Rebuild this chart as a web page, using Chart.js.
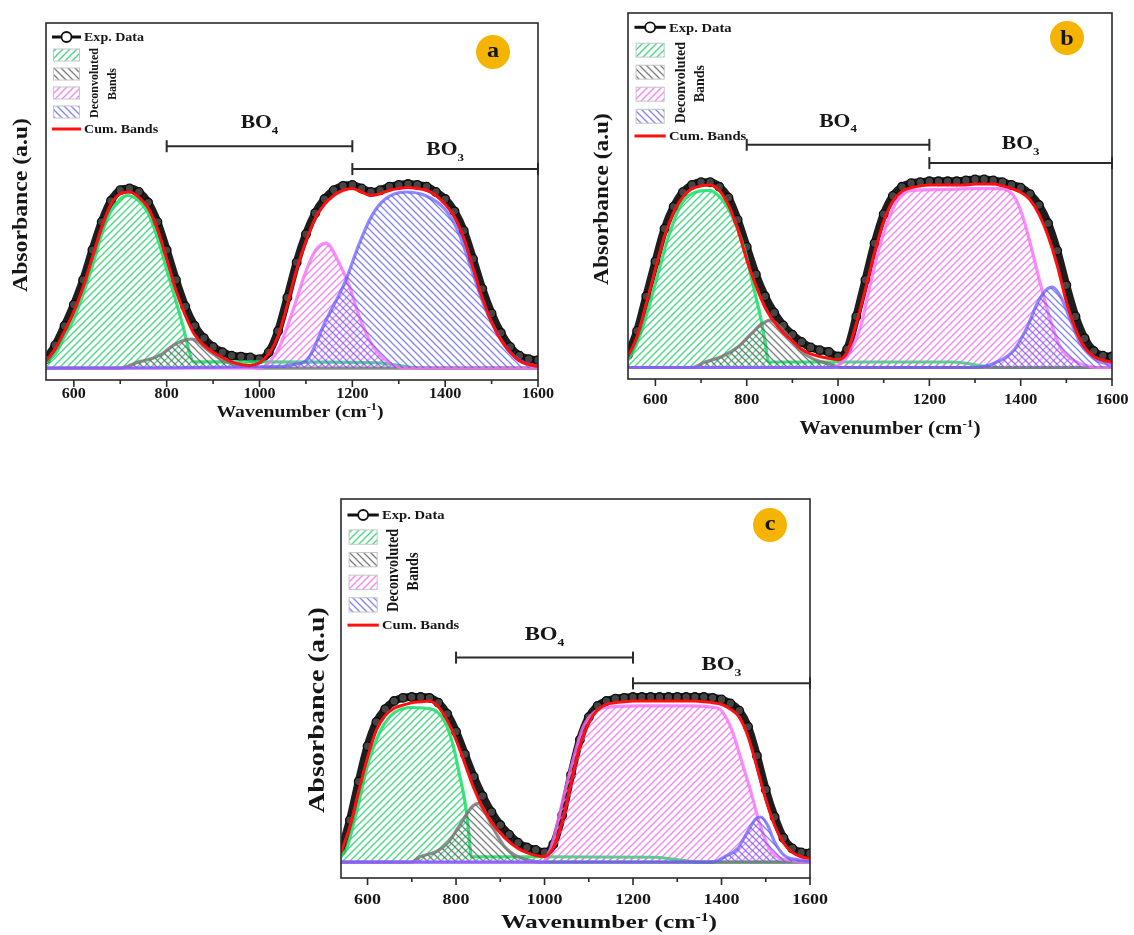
<!DOCTYPE html>
<html>
<head>
<meta charset="utf-8">
<title>FTIR deconvolution a/b/c</title>
<script src="https://cdn.jsdelivr.net/npm/chart.js@4.4.1/dist/chart.umd.min.js"></script>
<style>
  html, body { margin: 0; background: #fff; }
  #wrap { position: relative; width: 1134px; height: 935px; }
  #wrap canvas { position: absolute; left: 0; top: 0; }
</style>
</head>
<body>
<div id="wrap">
  <canvas id="chartA" width="1134" height="935"></canvas>
  <canvas id="chartB" width="1134" height="935"></canvas>
  <canvas id="chartC" width="1134" height="935"></canvas>
</div>
<script>
// === DATA (absorbance in units of the main peak) ===
const wavenumbers = [
  540, 560, 580, 600, 620, 640, 660, 680, 700, 720,
  740, 760, 780, 800, 820, 840, 860, 880, 900, 920,
  940, 960, 980, 1000, 1020, 1040, 1060, 1080, 1100, 1120,
  1140, 1160, 1180, 1200, 1220, 1240, 1260, 1280, 1300, 1320,
  1340, 1360, 1380, 1400, 1420, 1440, 1460, 1480, 1500, 1520,
  1540, 1560, 1580, 1600
];
const majorTicks = [600, 800, 1000, 1200, 1400, 1600];
const minorTicks = [700, 900, 1100, 1300, 1500];
const bo4Range = [800, 1200];
const bo3Range = [1200, 1600];

// --- panel a ---
const expA = [
  0.05, 0.13, 0.24, 0.36, 0.50, 0.67, 0.83, 0.95, 1.01, 1.02,
  1.00, 0.94, 0.83, 0.67, 0.50, 0.35, 0.24, 0.17, 0.12, 0.09,
  0.07, 0.065, 0.06, 0.05, 0.09, 0.21, 0.40, 0.60, 0.76, 0.88,
  0.96, 1.01, 1.035, 1.04, 1.02, 1.00, 1.01, 1.03, 1.04, 1.045,
  1.04, 1.03, 1.00, 0.96, 0.89, 0.78, 0.62, 0.45, 0.31, 0.20,
  0.12, 0.07, 0.05, 0.045
];
const cumA = [
  0.04, 0.11, 0.21, 0.32, 0.46, 0.63, 0.80, 0.93, 0.99, 1.00,
  0.97, 0.91, 0.79, 0.62, 0.44, 0.30, 0.19, 0.13, 0.09, 0.06,
  0.035, 0.02, 0.015, 0.03, 0.08, 0.18, 0.36, 0.56, 0.72, 0.85,
  0.93, 0.98, 1.01, 1.02, 1.00, 0.98, 0.99, 1.01, 1.02, 1.025,
  1.02, 1.01, 0.98, 0.93, 0.86, 0.74, 0.57, 0.40, 0.26, 0.16,
  0.09, 0.04, 0.02, 0.01
];
const greenA = [[540, 0.03], [560, 0.08], [580, 0.18], [600, 0.28], [620, 0.42], [640, 0.58], [660, 0.76],
  [680, 0.89], [700, 0.96], [715, 0.98], [740, 0.95], [760, 0.88], [780, 0.74], [800, 0.56], [820, 0.38],
  [835, 0.24], [848, 0.10], [858, 0.035], [1000, 0.035], [1250, 0.03], [1350, 0], [1600, 0]];
const grayA = [[540, 0], [700, 0], [740, 0.035], [770, 0.055], [790, 0.08], [815, 0.13], [840, 0.16],
  [855, 0.165], [870, 0.145], [885, 0.11], [900, 0.08], [920, 0.045], [940, 0.025], [970, 0.01], [1000, 0], [1600, 0]];
const pinkA = [[540, 0], [1000, 0], [1020, 0.03], [1043, 0.12], [1071, 0.32], [1100, 0.55], [1121, 0.67],
  [1143, 0.71], [1171, 0.60], [1193, 0.47], [1214, 0.30], [1243, 0.13], [1271, 0.045], [1295, 0.01], [1320, 0], [1600, 0]];
const blueA = [[540, 0], [1050, 0.01], [1071, 0.02], [1100, 0.04], [1143, 0.27], [1186, 0.50], [1214, 0.70],
  [1243, 0.87], [1271, 0.96], [1314, 1.0], [1357, 0.98], [1400, 0.90], [1429, 0.77], [1457, 0.56],
  [1486, 0.34], [1514, 0.19], [1543, 0.08], [1571, 0.03], [1600, 0.01]];

// --- panel b ---
const expB = [
  0.07, 0.20, 0.39, 0.58, 0.76, 0.88, 0.96, 1.00, 1.015, 1.015,
  0.99, 0.93, 0.81, 0.66, 0.51, 0.39, 0.30, 0.23, 0.18, 0.14,
  0.11, 0.095, 0.085, 0.06, 0.10, 0.28, 0.48, 0.68, 0.84, 0.94,
  0.99, 1.01, 1.015, 1.02, 1.02, 1.02, 1.02, 1.025, 1.03, 1.03,
  1.025, 1.015, 1.00, 0.985, 0.95, 0.89, 0.79, 0.64, 0.45, 0.28,
  0.16, 0.09, 0.065, 0.06
];
const cumB = [
  0.06, 0.17, 0.35, 0.54, 0.72, 0.85, 0.935, 0.98, 0.995, 1.00,
  0.97, 0.89, 0.76, 0.59, 0.45, 0.33, 0.25, 0.19, 0.145, 0.10,
  0.075, 0.06, 0.05, 0.042, 0.085, 0.24, 0.43, 0.63, 0.80, 0.91,
  0.965, 0.985, 0.995, 1.00, 1.00, 1.00, 1.00, 1.00, 1.005, 1.005,
  1.005, 0.995, 0.98, 0.96, 0.92, 0.84, 0.72, 0.56, 0.36, 0.21,
  0.11, 0.06, 0.04, 0.03
];
const greenB = [[540, 0.04], [550, 0.08], [571, 0.21], [600, 0.46], [629, 0.72], [658, 0.90], [688, 0.96],
  [717, 0.97], [746, 0.92], [775, 0.79], [797, 0.63], [815, 0.44], [830, 0.28], [841, 0.13], [848, 0.03],
  [1000, 0.03], [1250, 0.03], [1350, 0], [1600, 0]];
const grayB = [[540, 0], [680, 0], [709, 0.03], [746, 0.06], [782, 0.115], [812, 0.19], [834, 0.24],
  [852, 0.26], [870, 0.23], [892, 0.17], [914, 0.10], [943, 0.05], [980, 0.02], [1010, 0], [1600, 0]];
const pinkB = [[540, 0], [990, 0], [1005, 0.02], [1020, 0.06], [1049, 0.22], [1071, 0.46], [1093, 0.68],
  [1115, 0.84], [1137, 0.94], [1166, 0.97], [1224, 0.975], [1297, 0.98], [1355, 0.98], [1385, 0.94],
  [1403, 0.84], [1421, 0.68], [1443, 0.46], [1465, 0.26], [1487, 0.11], [1516, 0.04], [1545, 0.01], [1570, 0], [1600, 0]];
const blueB = [[540, 0], [1300, 0], [1348, 0.03], [1385, 0.095], [1414, 0.22], [1436, 0.35], [1454, 0.42],
  [1469, 0.44], [1487, 0.39], [1509, 0.26], [1531, 0.13], [1560, 0.05], [1589, 0.02], [1600, 0.015]];

// --- panel c ---
const expC = [
  0.07, 0.26, 0.50, 0.72, 0.87, 0.95, 1.00, 1.02, 1.025, 1.025,
  1.02, 0.99, 0.92, 0.81, 0.67, 0.53, 0.41, 0.31, 0.23, 0.17,
  0.12, 0.09, 0.075, 0.06, 0.11, 0.29, 0.54, 0.76, 0.90, 0.97,
  1.00, 1.015, 1.02, 1.025, 1.025, 1.025, 1.025, 1.025, 1.025, 1.025,
  1.025, 1.025, 1.02, 1.01, 0.985, 0.94, 0.84, 0.66, 0.45, 0.28,
  0.15, 0.085, 0.06, 0.055
];
const cumC = [
  0.06, 0.22, 0.44, 0.65, 0.82, 0.91, 0.955, 0.975, 0.99, 0.995,
  1.00, 0.965, 0.88, 0.76, 0.61, 0.46, 0.34, 0.25, 0.18, 0.125,
  0.085, 0.058, 0.04, 0.035, 0.09, 0.25, 0.49, 0.72, 0.865, 0.945,
  0.98, 0.99, 0.995, 1.00, 1.00, 1.00, 1.00, 1.00, 1.00, 1.00,
  1.00, 0.995, 0.99, 0.98, 0.95, 0.90, 0.78, 0.59, 0.39, 0.23,
  0.12, 0.06, 0.033, 0.023
];
const greenC = [[540, 0.033], [552, 0.08], [575, 0.31], [602, 0.62], [632, 0.83], [662, 0.93], [700, 0.96],
  [745, 0.95], [775, 0.87], [793, 0.73], [808, 0.54], [820, 0.38], [827, 0.23], [835, 0.033],
  [1000, 0.033], [1250, 0.03], [1350, 0], [1600, 0]];
const grayC = [[540, 0], [700, 0], [718, 0.033], [755, 0.064], [783, 0.125], [813, 0.25], [835, 0.34],
  [850, 0.365], [865, 0.31], [888, 0.19], [910, 0.095], [933, 0.043], [963, 0.012], [990, 0], [1600, 0]];
const pinkC = [[540, 0], [995, 0], [1005, 0.03], [1019, 0.13], [1041, 0.38], [1063, 0.62], [1086, 0.83],
  [1108, 0.92], [1138, 0.96], [1213, 0.97], [1325, 0.97], [1392, 0.955], [1422, 0.83], [1444, 0.64],
  [1466, 0.44], [1485, 0.25], [1504, 0.105], [1526, 0.033], [1556, 0.01], [1580, 0], [1600, 0]];
const blueC = [[540, 0], [1380, 0], [1407, 0.033], [1437, 0.085], [1459, 0.19], [1478, 0.27], [1489, 0.28],
  [1504, 0.23], [1519, 0.13], [1541, 0.043], [1571, 0.015], [1600, 0.005]];

// === STYLE / LAYOUT ===
const FONT = '"Liberation Serif", "DejaVu Serif", serif';
const INK = '#161616';
const bandStyle = [
  { line: 'rgba(25,222,105,0.85)', hatch: 'rgba(45,215,115,0.9)', dir: 1 },    // green
  { line: 'rgba(120,120,120,0.85)', hatch: 'rgba(95,95,95,0.8)', dir: -1 },    // gray
  { line: 'rgba(250,110,250,0.8)', hatch: 'rgba(245,100,245,0.8)', dir: 1 },   // pink
  { line: 'rgba(100,90,255,0.72)', hatch: 'rgba(90,90,245,0.75)', dir: -1 }    // blue
];

const panels = [
  { canvas: 'chartA', letter: 'a', exp: expA, cum: cumA, bands: [greenA, grayA, pinkA, blueA],
    area: { left: 46, top: 23, right: 538, bottom: 380 }, yMin: -0.068, yMax: 1.96,
    bo4: 1.26, bo3: 1.13, boFont: 18,
    tickY: 393, tickFont: 14, tickSx: 1.15,
    xTitle: { x: 300, y: 411, size: 17, len: 167 },
    yTitle: { x: 20, y: 205, size: 20, len: 174 },
    badge: { x: 493, y: 52, dy: -2 },
    legend: { hs: 1, vs: 1, expDy: 14, font: 12 } },
  { canvas: 'chartB', letter: 'b', exp: expB, cum: cumB, bands: [greenB, grayB, pinkB, blueB],
    area: { left: 628, top: 13, right: 1112, bottom: 379 }, yMin: -0.063, yMax: 1.942,
    bo4: 1.22, bo3: 1.12, boFont: 18,
    tickY: 399, tickFont: 14.5, tickSx: 1.15,
    xTitle: { x: 890, y: 428, size: 18, len: 181 },
    yTitle: { x: 601, y: 199, size: 20, len: 172 },
    badge: { x: 1067, y: 38, dy: 0 },
    legend: { hs: 1.08, vs: 1.16, expDy: 14.3, font: 12.5 } },
  { canvas: 'chartC', letter: 'c', exp: expC, cum: cumC, bands: [greenC, grayC, pinkC, blueC],
    area: { left: 341, top: 499, right: 810, bottom: 878 }, yMin: -0.099, yMax: 2.255,
    bo4: 1.27, bo3: 1.11, boFont: 19,
    tickY: 899, tickFont: 15, tickSx: 1.2,
    xTitle: { x: 609, y: 922, size: 19, len: 216 },
    yTitle: { x: 316, y: 710, size: 22, len: 206 },
    badge: { x: 770, y: 525, dy: -2 },
    legend: { hs: 1.08, vs: 1.19, expDy: 16, font: 12.5 } }
];

// hatch pattern: dir 1 = "/", dir -1 = "\"
function hatch(ctx, color, dir) {
  const s = 7;
  const c = document.createElement('canvas');
  c.width = c.height = s;
  const g = c.getContext('2d');
  g.strokeStyle = color;
  g.lineWidth = 1.3;
  g.beginPath();
  if (dir > 0) {
    g.moveTo(0, s); g.lineTo(s, 0);
    g.moveTo(-1, 1); g.lineTo(1, -1);
    g.moveTo(s - 1, s + 1); g.lineTo(s + 1, s - 1);
  } else {
    g.moveTo(0, 0); g.lineTo(s, s);
    g.moveTo(-1, s - 1); g.lineTo(1, s + 1);
    g.moveTo(s - 1, -1); g.lineTo(s + 1, 1);
  }
  g.stroke();
  return ctx.createPattern(c, 'repeat');
}

// text with horizontal stretch (the figure is a bit widened); parts = [text, size, dy]
function drawLabel(ctx, parts, x, y, opt) {
  const rot = opt.rot || 0;
  let k = 1, sx = opt.sx || 1;
  let w = 0;
  parts.forEach(p => { ctx.font = `bold ${p[1]}px ${FONT}`; w += ctx.measureText(p[0]).width; });
  if (opt.len && rot) { k = opt.len / w; w = opt.len; }
  else if (opt.len) { sx = opt.len / w; }
  ctx.save();
  ctx.translate(x, y);
  ctx.scale(sx, 1);
  ctx.rotate(rot);
  ctx.fillStyle = opt.color || INK;
  ctx.textAlign = 'left';
  ctx.textBaseline = 'alphabetic';
  let cx = opt.align === 'left' ? 0 : -w / 2;
  const base = parts[0][1] * k * 0.34 + (opt.dy || 0);
  parts.forEach(p => {
    ctx.font = `bold ${p[1] * k}px ${FONT}`;
    ctx.fillText(p[0], cx, base + p[2] * k);
    cx += ctx.measureText(p[0]).width;
  });
  ctx.restore();
}

function seg(ctx, x0, y0, x1, y1) {
  ctx.beginPath(); ctx.moveTo(x0, y0); ctx.lineTo(x1, y1); ctx.stroke();
}

// frame, ticks, titles, BO brackets, legend and badge
function makeDecor(P, patterns) {
  return {
    id: 'decor',
    afterDraw(chart) {
      const { ctx, chartArea: a, scales: { x, y } } = chart;
      ctx.save();
      ctx.strokeStyle = '#2a2a2a';
      ctx.lineWidth = 1.6;
      ctx.strokeRect(a.left, a.top, a.right - a.left, a.bottom - a.top);

      majorTicks.forEach(v => {
        const px = x.getPixelForValue(v);
        seg(ctx, px, a.bottom, px, a.bottom + 7);
        drawLabel(ctx, [[String(v), P.tickFont, 0]], px, P.tickY, { sx: P.tickSx });
      });
      minorTicks.forEach(v => {
        const px = x.getPixelForValue(v);
        seg(ctx, px, a.bottom, px, a.bottom + 4);
      });

      const t = P.xTitle;
      drawLabel(ctx, [['Wavenumber (cm', t.size, 0], ['-1', t.size * 0.62, -t.size * 0.38], [')', t.size, 0]],
        t.x, t.y, { len: t.len });
      const yt = P.yTitle;
      drawLabel(ctx, [['Absorbance (a.u)', yt.size, 0]], yt.x, yt.y, { len: yt.len, rot: -Math.PI / 2, sx: 0.85 });

      // BO4 / BO3 brackets
      [[bo4Range, P.bo4, '4', 24], [bo3Range, P.bo3, '3', 20]].forEach(([r, lv, n, gap]) => {
        const p0 = x.getPixelForValue(r[0]), p1 = x.getPixelForValue(r[1]), py = y.getPixelForValue(lv);
        ctx.strokeStyle = '#2a2a2a';
        ctx.lineWidth = 2;
        seg(ctx, p0, py, p1, py);
        seg(ctx, p0, py - 6, p0, py + 6);
        seg(ctx, p1, py - 6, p1, py + 6);
        drawLabel(ctx, [['BO', P.boFont, 0], [n, P.boFont * 0.6, P.boFont * 0.3]], (p0 + p1) / 2, py - gap, { sx: 1.2 });
      });

      // legend
      const L = P.legend;
      const X = d => a.left + d * L.hs, Y = d => a.top + d * L.vs;
      const ey = a.top + L.expDy;
      ctx.strokeStyle = '#111';
      ctx.lineWidth = 3;
      seg(ctx, X(6), ey, X(35), ey);
      ctx.beginPath();
      ctx.arc(X(20.5), ey, 5, 0, Math.PI * 2);
      ctx.fillStyle = '#fff';
      ctx.fill();
      ctx.lineWidth = 1.8;
      ctx.stroke();
      drawLabel(ctx, [['Exp. Data', L.font, 0]], X(38), ey, { sx: 1.17, align: 'left' });
      [26, 45, 64, 83].forEach((top, i) => {
        ctx.fillStyle = patterns[i];
        ctx.fillRect(X(7.5), Y(top), 26 * L.hs, 12 * L.vs);
        ctx.strokeStyle = '#c4c4c4';
        ctx.lineWidth = 1;
        ctx.strokeRect(X(7.5), Y(top), 26 * L.hs, 12 * L.vs);
      });
      ctx.strokeStyle = '#ff1010';
      ctx.lineWidth = 3;
      seg(ctx, X(6), Y(106), X(35), Y(106));
      drawLabel(ctx, [['Cum. Bands', L.font, 0]], X(38), Y(106), { sx: 1.17, align: 'left' });
      drawLabel(ctx, [['Deconvoluted', 12, 0]], X(48), Y(60), { len: 70 * L.vs, rot: -Math.PI / 2, sx: 1.1 });
      drawLabel(ctx, [['Bands', 12, 0]], X(66), Y(61), { len: 32 * L.vs, rot: -Math.PI / 2, sx: 1.1 });

      // letter badge
      const b = P.badge;
      ctx.beginPath();
      ctx.arc(b.x, b.y, 17, 0, Math.PI * 2);
      ctx.fillStyle = '#f5b400';
      ctx.fill();
      drawLabel(ctx, [[P.letter, 22, 0]], b.x, b.y, { sx: 1.1, dy: b.dy });
      ctx.restore();
    }
  };
}

// === BUILD THE THREE CHARTS ===
panels.forEach(P => {
  const canvas = document.getElementById(P.canvas);
  const ctx = canvas.getContext('2d');
  const patterns = bandStyle.map(s => hatch(ctx, s.hatch, s.dir));

  const datasets = [{
    label: 'Exp. Data',
    data: wavenumbers.map((w, i) => ({ x: w, y: P.exp[i] })),
    borderColor: '#1e1e1e',
    borderWidth: 8,
    pointRadius: 4.3,
    pointBorderWidth: 1.3,
    pointBorderColor: '#0a0a0a',
    pointBackgroundColor: 'rgba(85,85,85,0.7)',
    cubicInterpolationMode: 'monotone',
    fill: false,
    order: 10
  }];
  P.bands.forEach((band, i) => {
    datasets.push({
      label: 'band ' + (i + 1),
      data: band.map(([x, y]) => ({ x, y })),
      borderColor: bandStyle[i].line,
      borderWidth: 3.2,
      backgroundColor: patterns[i],
      fill: 'origin',
      pointRadius: 0,
      cubicInterpolationMode: 'monotone',
      order: 6 - i
    });
  });
  datasets.push({
    label: 'Cum. Bands',
    data: wavenumbers.map((w, i) => ({ x: w, y: P.cum[i] })),
    borderColor: '#ff1010',
    borderWidth: 3,
    pointRadius: 0,
    cubicInterpolationMode: 'monotone',
    fill: false,
    order: 1
  });

  new Chart(canvas, {
    type: 'line',
    data: { datasets },
    options: {
      responsive: false,
      animation: false,
      events: [],
      layout: { padding: { left: P.area.left, top: P.area.top, right: 1134 - P.area.right, bottom: 935 - P.area.bottom } },
      plugins: { legend: { display: false }, tooltip: { enabled: false } },
      scales: {
        x: { type: 'linear', display: false, min: 540, max: 1600 },
        y: { display: false, min: P.yMin, max: P.yMax }
      }
    },
    plugins: [makeDecor(P, patterns)]
  });
});
</script>
</body>
</html>
